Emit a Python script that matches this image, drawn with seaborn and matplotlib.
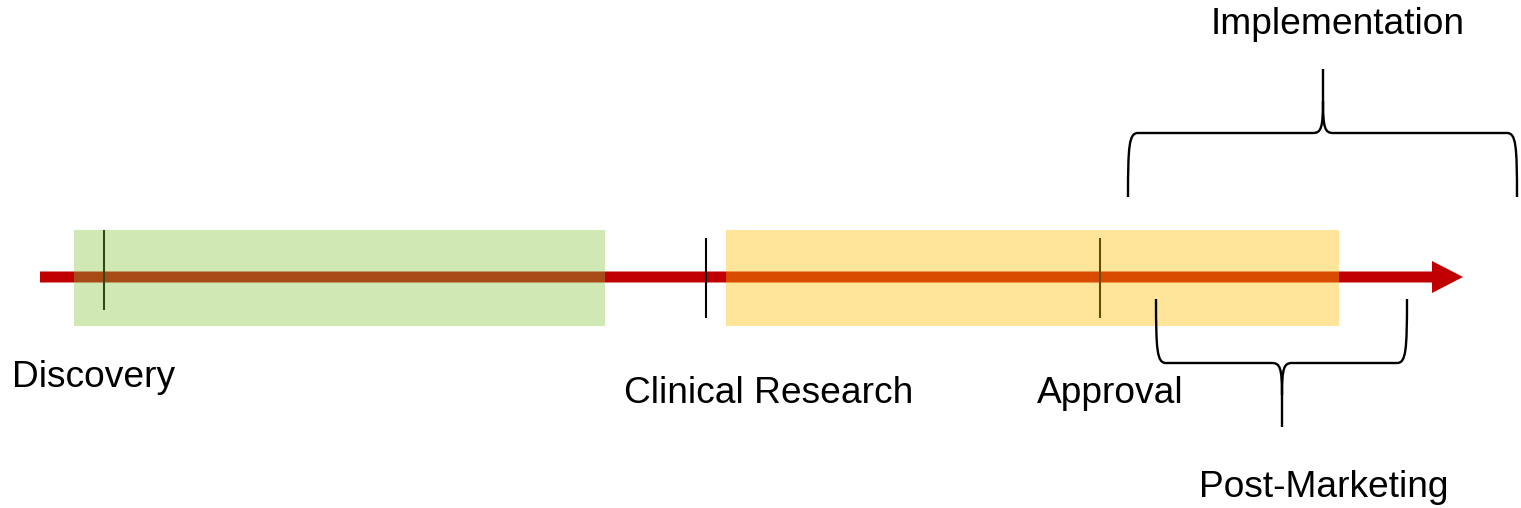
import matplotlib.pyplot as plt
import seaborn as sns
from matplotlib.path import Path
from matplotlib.patches import PathPatch

sns.set_theme(style="white")
plt.rcParams['font.family'] = ['Liberation Sans', 'DejaVu Sans']

# timeline in pixel-like units (x to the right, y downward)
timeline = (40, 1463, 277)

# phase boxes: start, end
phase_start = [74, 726]
phase_end = [605, 1339]
phase_colors = [(130 / 255, 197 / 255, 58 / 255), "#FFC000"]
phase_alpha = [0.376, 0.4]

# milestone ticks
milestone_x = [104, 706, 1100]
milestone_top = [230, 238, 238]
milestone_bottom = [310, 318, 318]

# labels
labels = ["Discovery", "Clinical Research", "Approval", "Post-Marketing", "Implementation"]
label_x = [12, 624, 1037, 1199, 1211]
label_y = [387, 403, 403, 497, 34]

# braces: left end, right end, end y, bar y, tip x, tip y
braces = [
    (1128, 1517, 197, 133, 1323, 69),   # Implementation (opens down)
    (1156, 1407, 299, 363, 1282, 427),  # Post-Marketing (opens up)
]

fig = plt.figure(figsize=(15.21, 5.08), dpi=100)
ax = fig.add_axes([0, 0, 1, 1])
ax.set_xlim(0, 1521)
ax.set_ylim(508, 0)
ax.axis("off")

# main arrow
x0, x1, y0 = timeline
ax.arrow(x0, y0, x1 - x0, 0, width=11, head_width=32, head_length=31,
         length_includes_head=True, color="#C00000", lw=0, zorder=1)

# milestones
ax.vlines(milestone_x, milestone_top, milestone_bottom, color="black", lw=1.5, zorder=2)

# phase boxes on top (translucent)
for s, e, c, a in zip(phase_start, phase_end, phase_colors, phase_alpha):
    ax.barh(y0 + 1, e - s, left=s, height=96, color=c, alpha=a, zorder=3, lw=0)


def brace_path(xl, xr, ye, yb, xt, yt):
    d = 1 if yb < ye else -1  # direction from end towards bar
    r = 10
    verts = [
        (xl, ye),
        (xl, yb + d * 0.2 * abs(ye - yb)), (xl + 1, yb), (xl + r, yb),
        (xt - r, yb),
        (xt - 2, yb), (xt, yb - d * 5), (xt, yb - d * 32),
        (xt, yt),
    ]
    codes = [Path.MOVETO, Path.CURVE4, Path.CURVE4, Path.CURVE4, Path.LINETO,
             Path.CURVE4, Path.CURVE4, Path.CURVE4, Path.LINETO]
    verts2 = [
        (xt, yb - d * 32),
        (xt, yb - d * 5), (xt + 2, yb), (xt + r, yb),
        (xr - r, yb),
        (xr - 1, yb), (xr, yb + d * 0.2 * abs(ye - yb)), (xr, ye),
    ]
    codes2 = [Path.MOVETO, Path.CURVE4, Path.CURVE4, Path.CURVE4, Path.LINETO,
              Path.CURVE4, Path.CURVE4, Path.CURVE4]
    return Path(verts + verts2, codes + codes2)


for b in braces:
    ax.add_patch(PathPatch(brace_path(*b), fill=False, ec="black", lw=1.7, zorder=4))

for t, x, y in zip(labels, label_x, label_y):
    ax.text(x, y, t, fontsize=26.7, ha="left", va="baseline", color="black", zorder=5)

fig.savefig("out.png", dpi=100, facecolor="white")
